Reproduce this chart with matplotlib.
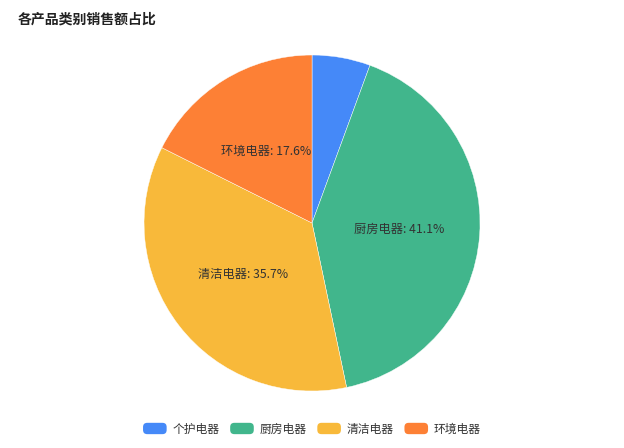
import numpy as np
import matplotlib.pyplot as plt
from matplotlib.patches import Patch, FancyBboxPatch
from matplotlib.legend_handler import HandlerPatch

plt.rcParams['font.family'] = ['Noto Sans CJK SC', 'DejaVu Sans']

# 数据
categories = ['个护电器', '厨房电器', '清洁电器', '环境电器']
shares = [5.6, 41.1, 35.7, 17.6]
colors = ['#4589F8', '#41B68C', '#F8B93A', '#FD8035']


class RoundBoxHandler(HandlerPatch):
    def create_artists(self, legend, orig_handle, xdescent, ydescent,
                       width, height, fontsize, trans):
        p = FancyBboxPatch((-xdescent, -ydescent), width, height,
                           boxstyle="round,pad=0,rounding_size=3",
                           fc=orig_handle.get_facecolor(), ec='none',
                           transform=trans)
        return [p]


fig = plt.figure(figsize=(6.24, 4.48), dpi=100)
ax = fig.add_axes([0.2308, 0.1272, 0.5385, 0.75])

wedges, texts = ax.pie(shares, colors=colors, startangle=90, counterclock=False,
                       radius=1.0, wedgeprops=dict(edgecolor='white', linewidth=0.3))

# 标签放在扇区内部（小扇区不显示）
for w, name, v in zip(wedges, categories, shares):
    if v < 10:
        continue
    ang = np.deg2rad((w.theta1 + w.theta2) / 2)
    ax.text(0.52 * np.cos(ang), 0.5 * np.sin(ang), f'{name}: {v}%',
            ha='center', va='center', fontsize=8.8, color='#333333')

ax.set_xlim(-1, 1)
ax.set_ylim(-1, 1)
ax.set_aspect('equal')
ax.axis('off')

fig.text(18 / 624, 1 - 20 / 448, '各产品类别销售额占比', fontsize=10,
         fontweight='bold', color='#222222', ha='left', va='center')

handles = [Patch(facecolor=c, label=n) for c, n in zip(colors, categories)]
fig.legend(handles=handles, loc='center', bbox_to_anchor=(0.5, 1 - 429 / 448),
           ncol=4, frameon=False, fontsize=8.5, handlelength=2.0, handleheight=1.1,
           handletextpad=0.5, columnspacing=0.9, labelcolor='#333333',
           handler_map={Patch: RoundBoxHandler()})

fig.savefig('out.png', dpi=100)
